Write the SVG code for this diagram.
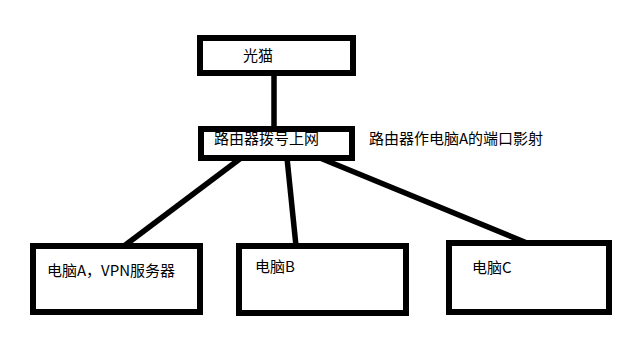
<svg xmlns="http://www.w3.org/2000/svg" width="628" height="342" viewBox="0 0 628 342">
<style>
.box{fill:#fff;stroke:#000;stroke-width:6}
.ln{stroke:#000;stroke-width:5.5;fill:none}
text{font-family:"Noto Sans CJK SC","Microsoft YaHei",sans-serif;font-size:15px;fill:#000}
</style>
<rect width="628" height="342" fill="#fff"/>
<g id="connectors">
<line class="ln" x1="274" y1="73" x2="274" y2="129"/>
<line class="ln" x1="241" y1="158" x2="124" y2="246"/>
<line class="ln" x1="287" y1="158" x2="296" y2="246"/>
<line class="ln" x1="320" y1="158" x2="527" y2="243"/>
</g>
<g id="modem"><rect class="box" x="200" y="38" width="153" height="35"/><text x="243" y="61">光猫</text></g>
<g id="router"><rect class="box" x="201" y="129" width="151" height="29"/><text x="214" y="144">路由器拨号上网</text></g>
<g id="note"><text x="369" y="144">路由器作电脑A的端口影射</text></g>
<g id="pcA"><rect class="box" x="33" y="246" width="167" height="66"/><text x="47" y="276">电脑A，VPN服务器</text></g>
<g id="pcB"><rect class="box" x="239" y="246" width="167" height="67"/><text x="255" y="272">电脑B</text></g>
<g id="pcC"><rect class="box" x="449" y="243" width="160" height="69"/><text x="472" y="273">电脑C</text></g>
</svg>
